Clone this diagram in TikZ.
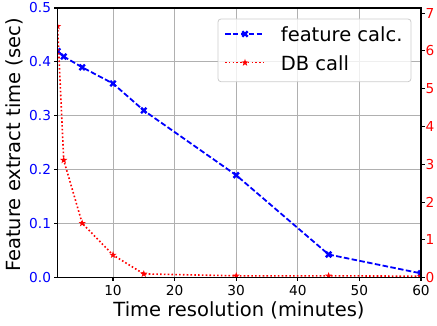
\documentclass[tikz,border=0pt]{standalone}
\usepackage{fontspec}
\setmainfont{DejaVu Sans}
\definecolor{mblue}{rgb}{0,0,1}
\definecolor{mred}{rgb}{1,0,0}
\definecolor{gridgray}{rgb}{0.69,0.69,0.69}
\pgfdeclareplotmark{fatx}{%
  \pgfsetlinewidth{2.4pt}\pgfsetbuttcap
  \pgfpathmoveto{\pgfqpoint{-2.7pt}{-2.7pt}}\pgfpathlineto{\pgfqpoint{2.7pt}{2.7pt}}%
  \pgfpathmoveto{\pgfqpoint{-2.7pt}{2.7pt}}\pgfpathlineto{\pgfqpoint{2.7pt}{-2.7pt}}%
  \pgfusepathqstroke}
\pgfdeclareplotmark{fstar}{%
  \pgfpathmoveto{\pgfqpointpolar{90}{3.8pt}}%
  \pgfpathlineto{\pgfqpointpolar{126}{1.5pt}}%
  \pgfpathlineto{\pgfqpointpolar{162}{3.8pt}}%
  \pgfpathlineto{\pgfqpointpolar{198}{1.5pt}}%
  \pgfpathlineto{\pgfqpointpolar{234}{3.8pt}}%
  \pgfpathlineto{\pgfqpointpolar{270}{1.5pt}}%
  \pgfpathlineto{\pgfqpointpolar{306}{3.8pt}}%
  \pgfpathlineto{\pgfqpointpolar{342}{1.5pt}}%
  \pgfpathlineto{\pgfqpointpolar{18}{3.8pt}}%
  \pgfpathlineto{\pgfqpointpolar{54}{1.5pt}}%
  \pgfpathclose\pgfusepathqfill}
\tikzset{
  gridline/.style={draw=gridgray, line width=1pt},
  spine/.style={draw=black, line width=1.1pt},
  tickmark/.style={draw=black, line width=1.1pt},
  ticklbl/.style={inner sep=0pt, font=\fontsize{13.7pt}{16pt}\selectfont},
  biglbl/.style={inner sep=0pt, font=\fontsize{19.5pt}{23pt}\selectfont},
  featdash/.style={draw=mblue, line width=1.8pt, dash pattern=on 5.5pt off 2.4pt},
  dbdot/.style={draw=mred, line width=1.6pt, dash pattern=on 1.6pt off 2.2pt},
  featline/.style={featdash, mark=fatx, mark options={solid, draw=mblue, fill=mblue}},
  dbline/.style={dbdot, mark=fstar, mark options={solid, draw=mred, fill=mred}},
}
\begin{document}
\begin{tikzpicture}[x=1pt,y=1pt]
\useasboundingbox (0,0) rectangle (437,326);
% grid
\foreach \xv in {10,20,30,40,50} {
  \draw[gridline] ({51.4+6.16*\xv},48.3) -- ({51.4+6.16*\xv},318);
}
\foreach \yv in {0.1,0.2,0.3,0.4} {
  \draw[gridline] (57.5,{48.3+539.4*\yv}) -- (421,{48.3+539.4*\yv});
}
% data
\begin{scope}
  \clip (57.5,48.3) rectangle (421,318);
  \begin{scope}[shift={(51.4pt,48.3pt)}, x=6.16pt, y=539.4pt]
    \draw[featline] plot coordinates {(1,0.42) (2,0.41) (5,0.39) (10,0.36) (15,0.31) (30,0.19) (45,0.043) (60,0.008)};
  \end{scope}
  \begin{scope}[shift={(51.4pt,48.3pt)}, x=6.16pt, y=37.8pt]
    \draw[dbline] plot coordinates {(1,6.65) (2,3.11) (5,1.44) (10,0.60) (15,0.10) (30,0.05) (45,0.05) (60,0.04)};
  \end{scope}
\end{scope}
% spines
\draw[spine] (57.5,48.3) rectangle (421,318);
% left ticks
\foreach \yv/\lb in {0/0.0,0.1/0.1,0.2/0.2,0.3/0.3,0.4/0.4,0.5/0.5} {
  \draw[tickmark] (54,{48.3+539.4*\yv}) -- (57.5,{48.3+539.4*\yv});
  \node[ticklbl, text=mblue, anchor=east] (yl\lb) at (51.2,{48.3+539.4*\yv}) {\lb};
}
% right ticks
\foreach \yv in {0,1,2,3,4,5,6,7} {
  \draw[tickmark] (421,{48.3+37.8*\yv}) -- (424.5,{48.3+37.8*\yv});
  \node[ticklbl, text=mred, anchor=west] (yr\yv) at (425.5,{48.3+37.8*\yv}) {\yv};
}
% bottom ticks
\foreach \xv in {10,20,30,40,50,60} {
  \draw[tickmark] ({51.4+6.16*\xv},48.3) -- ({51.4+6.16*\xv},44.8);
  \node[ticklbl, anchor=north] (xl\xv) at ({51.4+6.16*\xv},41) {\xv};
}
% axis labels
\node[biglbl, anchor=base] (xlabel) at (239,9.3) {Time resolution (minutes)};
\node[biglbl, rotate=90, anchor=base] (ylabel) at (20.7,181) {Feature extract time (sec)};
% legend
\draw[draw=black!20, fill=white, fill opacity=0.8, rounded corners=3pt, line width=0.8pt] (218,244.3) rectangle (411,307);
\coordinate (l1a) at (225,292);
\coordinate (l1b) at (264,292);
\coordinate (l2a) at (225,263.3);
\coordinate (l2b) at (264,263.3);
\draw[featdash] (l1a) -- (l1b);
\draw[dbdot] (l2a) -- (l2b);
\path plot[mark=fatx, mark options={solid, draw=mblue, fill=mblue}] coordinates {(245,292)};
\path plot[mark=fstar, mark options={solid, draw=mred, fill=mred}] coordinates {(245,263.3)};
\node[biglbl, anchor=base west] (leg1) at (280.7,284.3) {feature calc.};
\node[biglbl, anchor=base west] (leg2) at (280.7,255) {DB call};
\end{tikzpicture}
\end{document}
